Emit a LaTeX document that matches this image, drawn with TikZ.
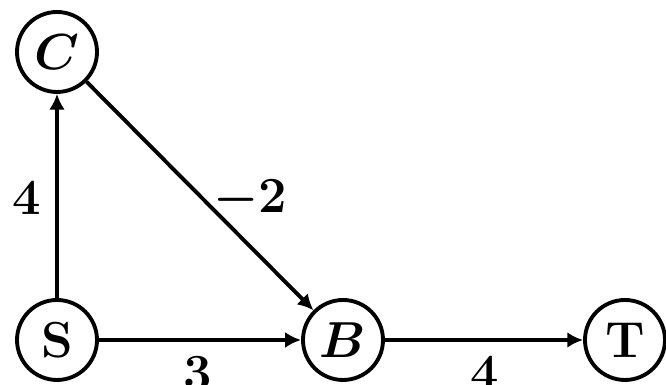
\documentclass[tikz,border=0pt]{standalone}
\usepackage{amsmath}
\usetikzlibrary{arrows.meta}
\begin{document}
\begin{tikzpicture}[
  every node/.style={font=\fontsize{15}{18}\selectfont\boldmath},
  vert/.style={circle,draw,line width=1.1pt,minimum size=0.8cm,inner sep=0pt},
  edge/.style={line width=1.1pt,-{Latex[length=4.5pt,width=4.5pt]}},
  wlabel/.style={inner sep=0pt}
]
\useasboundingbox (0,0) rectangle (6.66,3.85);
\node[vert] (C) at (0.57,3.33) {$C$};
\node[vert] (S) at (0.57,0.45) {$\mathbf{S}$};
\node[vert] (B) at (3.43,0.45) {$B$};
\node[vert] (T) at (6.25,0.45) {$\mathbf{T}$};
\draw[edge] (S) -- (C);
\draw[edge] (C) -- (B);
\draw[edge] (S) -- (B);
\draw[edge] (B) -- (T);
\node[wlabel] (l1) at (0.27,1.87) {$\mathbf{4}$};
\node[wlabel] (l2) at (2.50,1.85) {$-\mathbf{2}$};
\node[wlabel] (l3) at (1.98,0.12) {$\mathbf{3}$};
\node[wlabel] (l4) at (4.85,0.12) {$\mathbf{4}$};
\end{tikzpicture}
\end{document}
